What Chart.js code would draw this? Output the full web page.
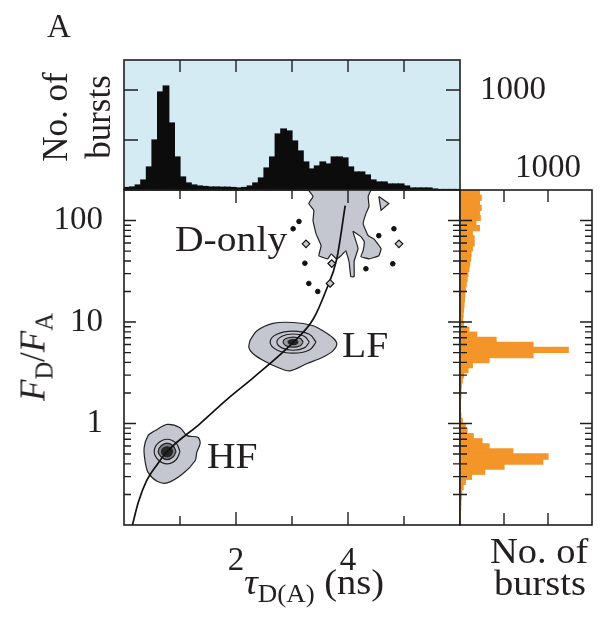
<!DOCTYPE html>
<html>
<head>
<meta charset="utf-8">
<script src="https://cdn.jsdelivr.net/npm/chart.js@4.4.1/dist/chart.umd.min.js"></script>
<style>
html, body { margin: 0; padding: 0; background: #fff; }
#wrap { position: relative; width: 600px; height: 617px; overflow: hidden;
  font-family: 'Liberation Serif', 'Times New Roman', serif; color: #231f20; }
canvas { position: absolute; left: 0; top: 0; }
.t { position: absolute; white-space: nowrap; line-height: 1; }
.rot { transform: translate(-50%, -50%) rotate(-90deg); text-align: center; }
.wide { transform: scaleX(1.1); transform-origin: left top; }
sub { font-size: 0.7em; vertical-align: -0.32em; line-height: 0; }
</style>
</head>
<body>
<div id="wrap">
  <canvas id="topHist" width="600" height="617"></canvas>
  <canvas id="main" width="600" height="617"></canvas>
  <canvas id="sideHist" width="600" height="617"></canvas>

  <div class="t" style="left:47px;top:10px;font-size:33px">A</div>
  <div class="t rot" style="left:77px;top:117px;font-size:35px;line-height:43px">No. of<br>bursts</div>
  <div class="t rot" style="left:33px;top:357px;font-size:35px"><i>F</i><sub>D</sub>/<i>F</i><sub>A</sub></div>
  <div class="t wide" style="left:244px;top:565px;font-size:35px"><i>τ</i><sub>D(A)</sub> (ns)</div>
  <div class="t wide" style="left:490px;top:534px;font-size:35px">No. of</div>
  <div class="t wide" style="left:494px;top:566px;font-size:35px">bursts</div>
  <div class="t wide" style="left:175px;top:221px;font-size:36px">D-only</div>
  <div class="t wide" style="left:342px;top:327px;font-size:36px">LF</div>
  <div class="t wide" style="left:207px;top:438px;font-size:36px">HF</div>
</div>

<script>
// top histogram: lifetime tau_D(A), 0.1 ns bins
const topBinCenters = [0.05, 0.15, 0.25, 0.35, 0.45, 0.55, 0.65, 0.75, 0.85, 0.95,
  1.05, 1.15, 1.25, 1.35, 1.45, 1.55, 1.65, 1.75, 1.85, 1.95,
  2.05, 2.15, 2.25, 2.35, 2.45, 2.55, 2.65, 2.75, 2.85, 2.95,
  3.05, 3.15, 3.25, 3.35, 3.45, 3.55, 3.65, 3.75, 3.85, 3.95,
  4.05, 4.15, 4.25, 4.35, 4.45, 4.55, 4.65, 4.75, 4.85, 4.95,
  5.05, 5.15, 5.25, 5.35, 5.45, 5.55, 5.65, 5.75, 5.85, 5.95];
const topCounts = [25, 30, 50, 100, 230, 500, 980, 1040, 670, 330,
  130, 70, 50, 40, 35, 30, 30, 28, 28, 25,
  20, 25, 40, 70, 120, 220, 330, 560, 610, 590,
  490, 390, 280, 210, 240, 280, 260, 330, 330, 320,
  230, 180, 180, 150, 100, 80, 80, 60, 60, 60,
  40, 20, 20, 20, 20, 10, 5, 5, 5, 5];

// side histogram: FD/FA, bins of 0.05 decade (log10 of bin centre), top to bottom
const sideBinLog = [2.275, 2.225, 2.175, 2.125, 2.075, 2.025, 1.975, 1.925, 1.875, 1.825,
  1.775, 1.725, 1.675, 1.625, 1.575, 1.525, 1.475, 1.425, 1.375, 1.325,
  1.275, 1.225, 1.175, 1.125, 1.075, 1.025, 0.975, 0.925, 0.875, 0.825,
  0.775, 0.725, 0.675, 0.625, 0.575, 0.525, 0.475, 0.425, 0.375, 0.325,
  0.275, 0.225, 0.175, 0.125, 0.075, 0.025, -0.025, -0.075, -0.125, -0.175,
  -0.225, -0.275, -0.325, -0.375, -0.425, -0.475, -0.525, -0.575, -0.625, -0.675,
  -0.725, -0.775, -0.825, -0.875, -0.925, -0.975];
const sideCounts = [220, 240, 220, 240, 220, 230, 180, 220, 140, 160,
  160, 140, 125, 120, 110, 100, 90, 80, 70, 60,
  55, 50, 45, 40, 35, 30, 40, 100, 190, 410,
  830, 1230, 830, 330, 140, 90, 40, 25, 15, 10,
  10, 5, 5, 5, 10, 25, 60, 80, 150, 250,
  330, 600, 1000, 940, 500, 280, 130, 60, 35, 20,
  15, 10, 8, 5, 5, 3];

// static FRET line [tau, FD/FA]
const fretLine = [[0.15, 0.1], [0.26, 0.17], [0.4, 0.27], [0.6, 0.4], [0.77, 0.53],
  [1.36, 1.0], [1.84, 1.73], [2.3, 2.8], [3.02, 6.3], [3.38, 10.7], [3.6, 20],
  [3.8, 42], [3.95, 140]];

// contours [tau, FD/FA]
const hfOuter = [[0.55, 0.85], [0.77, 0.98], [1.0, 0.91], [1.125, 0.76], [1.32, 0.73],
  [1.36, 0.64], [1.3, 0.52], [1.27, 0.43], [1.05, 0.32], [0.77, 0.26], [0.59, 0.27],
  [0.43, 0.33], [0.375, 0.43], [0.36, 0.58], [0.43, 0.76], [0.55, 0.85]];
const hfRing1 = [[1.0, 0.53], [0.93, 0.64], [0.77, 0.7], [0.61, 0.64], [0.54, 0.53],
  [0.61, 0.44], [0.77, 0.4], [0.93, 0.44], [1.0, 0.53]];
const hfRing2 = [[0.93, 0.53], [0.88, 0.6], [0.77, 0.64], [0.66, 0.6], [0.61, 0.53],
  [0.66, 0.47], [0.77, 0.44], [0.88, 0.47], [0.93, 0.53]];
const hfCore = [[0.87, 0.53], [0.84, 0.57], [0.77, 0.59], [0.7, 0.57], [0.67, 0.53],
  [0.7, 0.49], [0.77, 0.47], [0.84, 0.49], [0.87, 0.53]];
const lfOuter = [[2.25, 6.6], [2.375, 8.2], [2.66, 9.7], [3.02, 9.9], [3.375, 9.2],
  [3.55, 8.2], [3.73, 7.0], [3.8, 6.1], [3.73, 5.2], [3.55, 4.5], [3.27, 3.9],
  [2.96, 3.3], [2.73, 3.6], [2.48, 4.2], [2.3, 4.9], [2.23, 5.6], [2.25, 6.6]];
const lfRing1 = [[3.43, 6.34], [3.31, 7.57], [3.02, 8.15], [2.73, 7.57], [2.61, 6.34],
  [2.73, 5.31], [3.02, 4.93], [3.31, 5.31], [3.43, 6.34]];
const lfRing2 = [[3.31, 6.34], [3.22, 7.23], [3.02, 7.62], [2.82, 7.23], [2.73, 6.34],
  [2.82, 5.56], [3.02, 5.27], [3.22, 5.56], [3.31, 6.34]];
const lfRing3 = [[3.2, 6.34], [3.15, 6.87], [3.02, 7.11], [2.89, 6.87], [2.84, 6.34],
  [2.89, 5.85], [3.02, 5.65], [3.15, 5.85], [3.2, 6.34]];
const lfCore = [[3.11, 6.34], [3.08, 6.6], [3.02, 6.71], [2.96, 6.6], [2.93, 6.34],
  [2.96, 6.09], [3.02, 5.98], [3.08, 6.09], [3.11, 6.34]];
const donlyOuter = [[3.29, 200], [3.375, 173], [3.3, 147], [3.39, 126], [3.375, 100],
  [3.43, 74], [3.52, 56.5], [3.48, 45], [3.64, 42], [3.7, 47], [3.79, 42], [3.875, 45],
  [3.96, 50.5], [4.02, 39], [4.05, 28], [4.11, 28], [4.11, 40], [4.18, 53], [4.09, 78],
  [4.23, 69.5], [4.29, 62], [4.27, 50.5], [4.23, 44], [4.375, 42], [4.55, 45], [4.59, 53],
  [4.46, 66], [4.36, 71], [4.27, 93], [4.32, 117], [4.375, 138], [4.36, 173], [4.41, 200]];
const donlyTriangle = [[4.55, 173], [4.73, 147], [4.59, 126], [4.55, 173]];
const donlyDots = [[3.02, 83], [3.125, 98], [3.23, 38], [3.3, 24], [3.46, 20],
  [4.82, 83], [4.8, 37.5], [4.32, 33.5], [4.55, 71]];
const donlyDiamonds = [[3.25, 59], [4.91, 59], [3.71, 37.7], [3.68, 24]];

// axis ticks
const mainXLabels = [2, 4];
const mainXMajor = [2, 4];
const mainXMinor = [1, 3, 5];
const logLabels = [1, 10, 100];
const logMinor = [0.2, 0.3, 0.4, 0.5, 0.6, 0.7, 0.8, 0.9, 2, 3, 4, 5, 6, 7, 8, 9,
  20, 30, 40, 50, 60, 70, 80, 90];
const topYTicks = [500, 1000];
const topYLabels = [1000];
const sideXTicks = [500, 1000];
const sideXLabels = [1000];

const INK = '#231f20';
const SERIF = "'Liberation Serif', 'Times New Roman', serif";
Chart.defaults.font.family = SERIF;
Chart.defaults.color = INK;

// frame box + inward tick marks, drawn through the chart's own scales
const frameTicks = {
  id: 'frameTicks',
  beforeDraw(chart, args, opts) {
    if (!opts.bg) return;
    const { ctx, chartArea: a } = chart;
    ctx.save();
    ctx.fillStyle = opts.bg;
    ctx.fillRect(a.left, a.top, a.right - a.left, a.bottom - a.top);
    ctx.restore();
  },
  afterDraw(chart, args, opts) {
    const { ctx, chartArea: a } = chart;
    ctx.save();
    ctx.strokeStyle = '#1e1e1e';
    ctx.lineWidth = 1.6;
    ctx.strokeRect(a.left, a.top, a.right - a.left, a.bottom - a.top);
    ctx.lineWidth = 1.4;
    (opts.marks || []).forEach(m => {
      const s = chart.scales[m.scale];
      m.values.forEach(v => {
        const p = s.getPixelForValue(v);
        ctx.beginPath();
        m.sides.forEach(side => {
          if (side === 'bottom') { ctx.moveTo(p, a.bottom); ctx.lineTo(p, a.bottom - m.len); }
          if (side === 'top') { ctx.moveTo(p, a.top); ctx.lineTo(p, a.top + m.len); }
          if (side === 'left') { ctx.moveTo(a.left, p); ctx.lineTo(a.left + m.len, p); }
          if (side === 'right') { ctx.moveTo(a.right, p); ctx.lineTo(a.right - m.len, p); }
        });
        ctx.stroke();
      });
    });
    ctx.restore();
  }
};

const pts = arr => arr.map(p => ({ x: p[0], y: p[1] }));

function contour(arr, fillColor, order, tension) {
  return {
    data: pts(arr), showLine: true, fill: 'shape', backgroundColor: fillColor,
    borderColor: '#222', borderWidth: 1.2, pointRadius: 0, tension: tension, order: order
  };
}

const GREY = '#c4c7d0';
const DARK = '#262626';

const common = {
  responsive: false, animation: false, events: [], devicePixelRatio: 1,
  plugins: { legend: { display: false }, tooltip: { enabled: false } }
};

// main 2D plot
new Chart(document.getElementById('main'), {
  type: 'line',
  data: {
    datasets: [
      contour(donlyOuter, GREY, 9, 0.1),
      contour(donlyTriangle, GREY, 9, 0),
      contour(hfOuter, GREY, 8, 0.3),
      contour(lfOuter, GREY, 8, 0.3),
      contour(hfRing1, GREY, 7, 0.4),
      contour(lfRing1, GREY, 7, 0.4),
      contour(hfRing2, '#7e8087', 6, 0.4),
      contour(lfRing2, GREY, 6, 0.4),
      contour(lfRing3, '#9a9ca3', 5, 0.4),
      contour(hfCore, DARK, 4, 0.4),
      contour(lfCore, DARK, 4, 0.4),
      {
        data: pts(fretLine), showLine: true, fill: false, borderColor: '#111',
        borderWidth: 1.7, pointRadius: 0, cubicInterpolationMode: 'monotone', order: 1
      },
      {
        data: pts(donlyDots), showLine: false, pointRadius: 2.3, pointStyle: 'circle',
        pointBackgroundColor: '#111', pointBorderColor: '#111', order: 0
      },
      {
        data: pts(donlyDiamonds), showLine: false, pointRadius: 3.8, pointStyle: 'rectRot',
        pointBackgroundColor: GREY, pointBorderColor: '#111', pointBorderWidth: 1.2, order: 0
      }
    ]
  },
  options: {
    ...common,
    layout: { padding: { left: 0, top: 190, right: 140, bottom: 0 } },
    scales: {
      x: {
        type: 'linear', min: 0, max: 6,
        grid: { display: false }, border: { display: false },
        afterBuildTicks: s => { s.ticks = mainXLabels.map(v => ({ value: v })); },
        afterFit: s => { s.height = 92; },
        ticks: { font: { size: 33 }, padding: 9, color: INK, maxRotation: 0, callback: v => String(v) }
      },
      y: {
        type: 'logarithmic', min: 0.1, max: 200,
        grid: { display: false }, border: { display: false },
        afterBuildTicks: s => { s.ticks = logLabels.map(v => ({ value: v })); },
        afterFit: s => { s.width = 124; },
        ticks: { font: { size: 33 }, padding: 13, color: INK, callback: v => String(v) }
      }
    },
    plugins: {
      ...common.plugins,
      frameTicks: {
        marks: [
          { scale: 'x', values: mainXMajor, sides: ['bottom', 'top'], len: 13 },
          { scale: 'x', values: mainXMinor, sides: ['bottom', 'top'], len: 9 },
          { scale: 'y', values: logLabels, sides: ['left', 'right'], len: 12 },
          { scale: 'y', values: logMinor, sides: ['left', 'right'], len: 7 }
        ]
      }
    }
  },
  plugins: [frameTicks]
});

// top histogram
new Chart(document.getElementById('topHist'), {
  type: 'bar',
  data: {
    datasets: [{
      data: topCounts.map((c, i) => ({ x: topBinCenters[i], y: c })),
      backgroundColor: '#0c0c0c', borderWidth: 0, inflateAmount: 0.6,
      barPercentage: 1, categoryPercentage: 1
    }]
  },
  options: {
    ...common,
    layout: { padding: { left: 124, top: 60, right: 0, bottom: 427 } },
    scales: {
      x: { type: 'linear', min: 0, max: 6, offset: false, display: false },
      y: {
        position: 'right', min: 0, max: 1300,
        grid: { display: false }, border: { display: false },
        afterBuildTicks: s => { s.ticks = topYLabels.map(v => ({ value: v })); },
        afterFit: s => { s.width = 140; },
        ticks: { font: { size: 33 }, padding: 12, color: INK, callback: v => String(v) }
      }
    },
    plugins: {
      ...common.plugins,
      frameTicks: {
        bg: '#d5ebf3',
        marks: [
          { scale: 'x', values: [1, 2, 3, 4, 5], sides: ['top'], len: 12 },
          { scale: 'y', values: topYTicks, sides: ['left', 'right'], len: 14 }
        ]
      }
    }
  },
  plugins: [frameTicks]
});

// side histogram
new Chart(document.getElementById('sideHist'), {
  type: 'bar',
  data: {
    datasets: [{
      data: sideCounts.map((c, i) => ({ x: c, y: Math.pow(10, sideBinLog[i]) })),
      backgroundColor: '#f39529', borderWidth: 0, inflateAmount: 0.6,
      barPercentage: 1, categoryPercentage: 1
    }]
  },
  options: {
    ...common,
    indexAxis: 'y',
    layout: { padding: { left: 460, top: 0, right: 8, bottom: 92 } },
    scales: {
      y: { type: 'logarithmic', min: 0.1, max: 200, offset: false, display: false },
      x: {
        type: 'linear', position: 'top', min: 0, max: 1500,
        grid: { display: false }, border: { display: false },
        afterBuildTicks: s => { s.ticks = sideXLabels.map(v => ({ value: v })); },
        afterFit: s => { s.height = 190; },
        ticks: { font: { size: 33 }, padding: -6, color: INK, maxRotation: 0, callback: v => String(v) }
      }
    },
    plugins: {
      ...common.plugins,
      frameTicks: {
        marks: [
          { scale: 'x', values: sideXTicks, sides: ['top', 'bottom'], len: 12 },
          { scale: 'y', values: logLabels, sides: ['left', 'right'], len: 12 },
          { scale: 'y', values: logMinor, sides: ['left', 'right'], len: 7 }
        ]
      }
    }
  },
  plugins: [frameTicks]
});
</script>
</body>
</html>
